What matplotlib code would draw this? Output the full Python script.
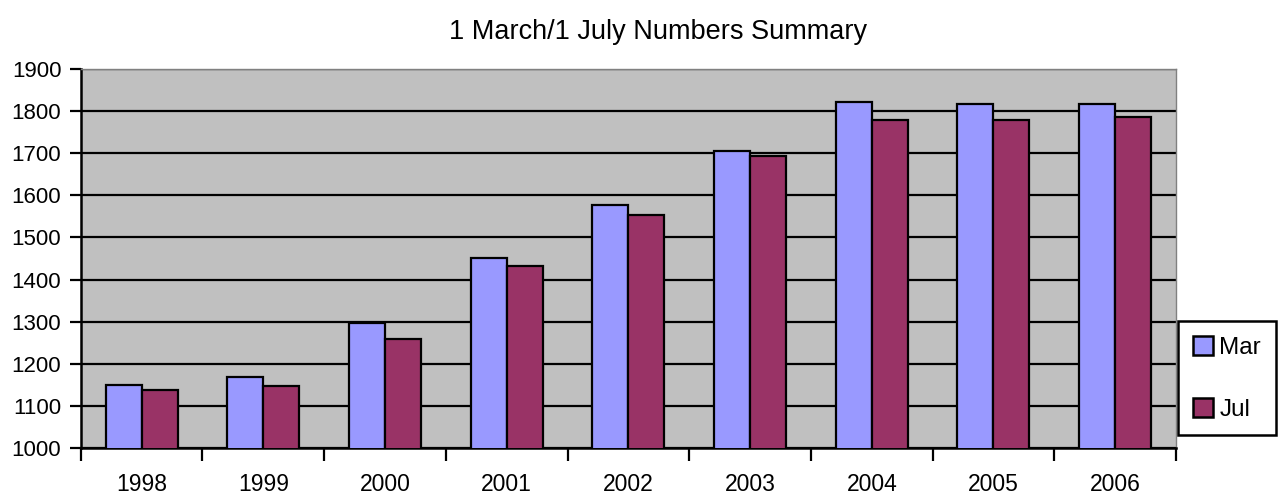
import matplotlib
matplotlib.use("Agg")
import matplotlib.pyplot as plt
import numpy as np
from matplotlib.patches import Patch

# data
years = ["1998", "1999", "2000", "2001", "2002", "2003", "2004", "2005", "2006"]
mar = [1149, 1168, 1297, 1451, 1576, 1706, 1821, 1816, 1818]
jul = [1138, 1148, 1259, 1432, 1554, 1693, 1778, 1778, 1786]
series_names = ["Mar", "Jul"]

plt.rcParams['font.family'] = ['Liberation Sans', 'DejaVu Sans']

fig = plt.figure(figsize=(12.78, 4.98), dpi=100)
ax = fig.add_axes([0.0632, 0.1004, 0.857, 0.761])
ax.set_facecolor("#C0C0C0")

x = np.arange(len(years))
w = 0.296
ax.bar(x - w / 2, mar, w, color="#9999FF", edgecolor="black", linewidth=1.6, zorder=3)
ax.bar(x + w / 2, jul, w, color="#993366", edgecolor="black", linewidth=1.6, zorder=3)

ax.set_ylim(1000, 1900)
ax.set_xlim(-0.5, len(years) - 0.5)
ax.set_yticks(range(1000, 2000, 100))
ax.yaxis.grid(True, color="black", linewidth=1.6, zorder=1)
ax.set_axisbelow(True)

# ticks on category boundaries, labels in the middle
ax.set_xticks(np.arange(-0.5, len(years), 1.0))
ax.set_xticklabels([])
ax.set_xticks(x, minor=True)
ax.set_xticklabels(years, minor=True)
ax.tick_params(axis="x", which="major", length=9, width=1.6, direction="out")
ax.tick_params(axis="x", which="minor", length=0, pad=18, labelsize=16.5)
ax.tick_params(axis="y", length=8, width=1.6, pad=6, labelsize=16)

for s in ["left", "bottom"]:
    ax.spines[s].set_color("black")
    ax.spines[s].set_linewidth(1.8)
for s in ["top", "right"]:
    ax.spines[s].set_color("#808080")
    ax.spines[s].set_linewidth(1.0)

fig.text(0.515, 0.935, "1 March/1 July Numbers Summary", ha="center", va="center",
         fontsize=19.5)

handles = [Patch(facecolor="#9999FF", edgecolor="black", linewidth=1.8),
           Patch(facecolor="#993366", edgecolor="black", linewidth=1.8)]
leg = fig.legend(handles, series_names, loc="upper left",
                 bbox_to_anchor=(1178 / 1278, 1 - 321 / 498),
                 prop={"size": 17.5}, frameon=True, fancybox=False, framealpha=1,
                 borderpad=0.6, handlelength=0.85, handleheight=0.85, handletextpad=0.25,
                 labelspacing=1.6, borderaxespad=0)
leg.get_frame().set_edgecolor("black")
leg.get_frame().set_linewidth(1.8)

fig.savefig("out.png", dpi=100)
